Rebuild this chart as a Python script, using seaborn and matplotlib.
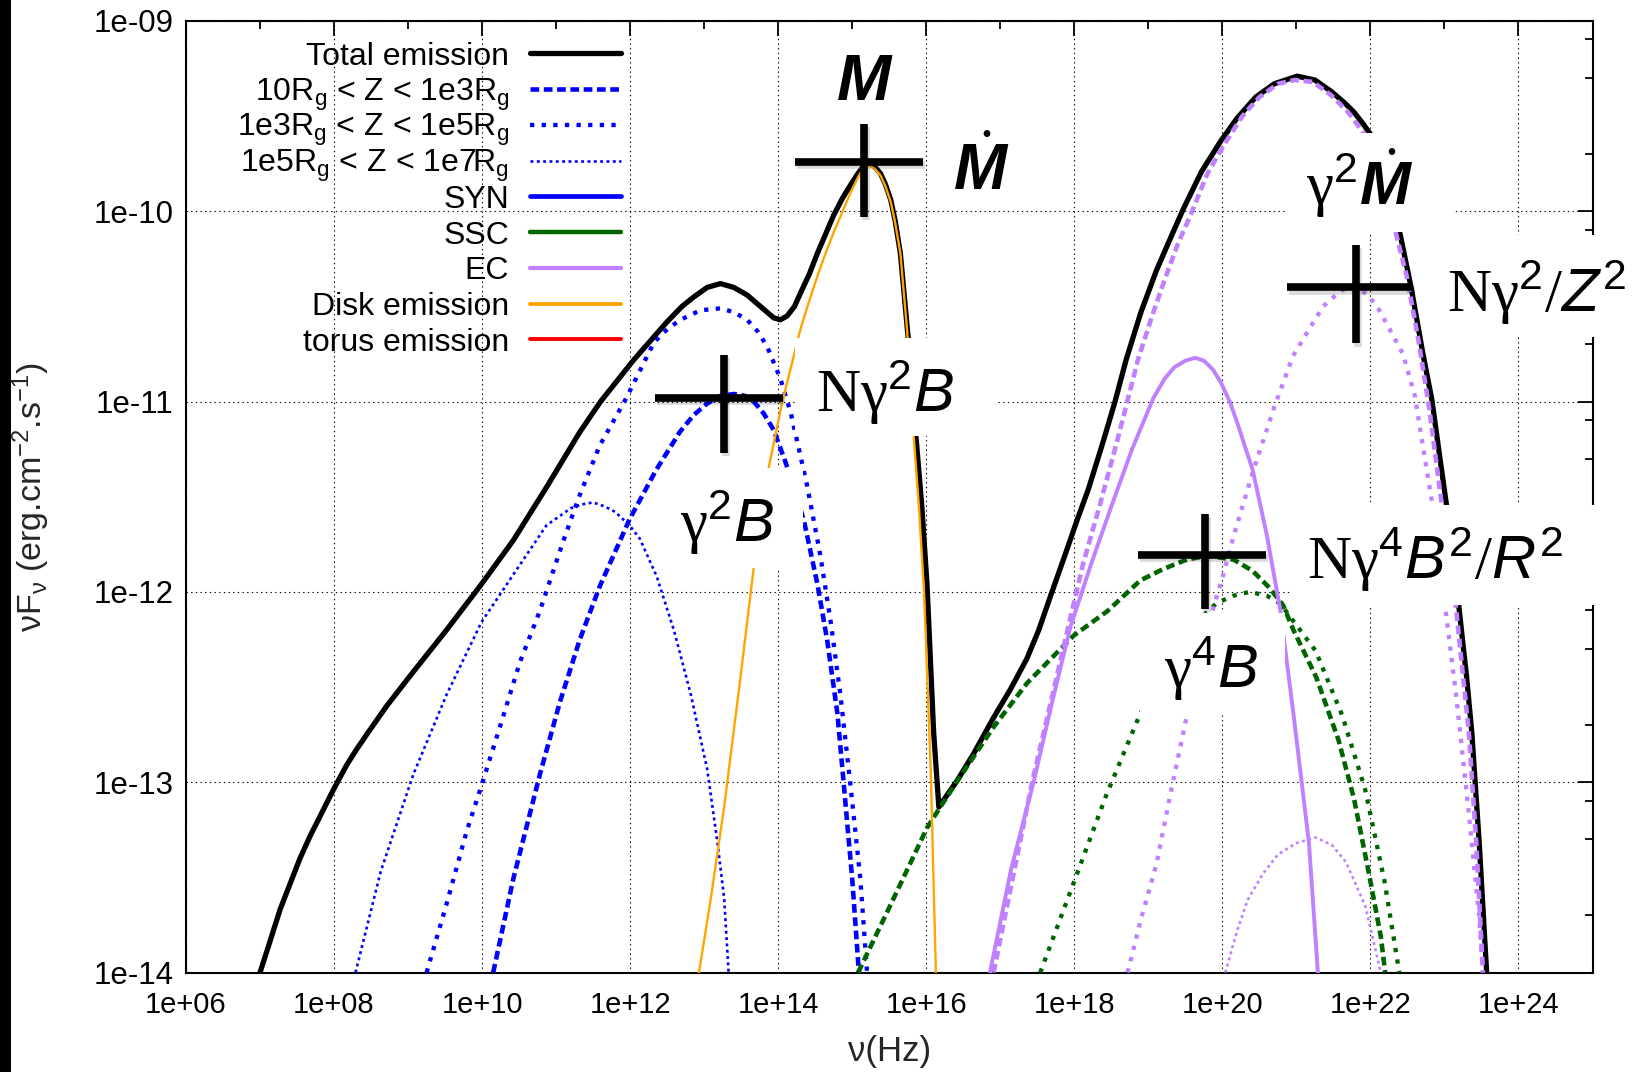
import numpy as np
import pandas as pd
import matplotlib
matplotlib.use("Agg")
import matplotlib.pyplot as plt
import seaborn as sns
from matplotlib.lines import Line2D
from matplotlib.patches import Rectangle
from matplotlib import patheffects as pe
from matplotlib.ticker import NullFormatter
from matplotlib.legend_handler import HandlerLine2D

# ---------------- data (log10 nu [Hz], log10 nuFnu [erg/cm2/s]) ----------------
total_lognu = [7.00, 7.14, 7.27, 7.41, 7.54, 7.68, 7.81, 7.99, 8.17, 8.30, 8.44, 8.71, 9.07,
               9.52, 9.99, 10.42, 10.87, 11.32, 11.60, 12.05, 12.50, 12.70, 12.86, 13.04,
               13.22, 13.40, 13.58, 13.76, 13.94, 14.03, 14.12, 14.22, 14.30, 14.42, 14.53,
               14.64, 14.75, 14.87, 14.98, 15.08, 15.13, 15.18, 15.23, 15.30, 15.38, 15.45,
               15.52, 15.58, 15.65, 15.74, 15.80, 15.86, 15.94, 16.01, 16.10, 16.17, 16.42,
               16.64, 16.91, 17.14, 17.36, 17.52, 17.68, 17.88, 18.04, 18.19, 18.39, 18.55,
               18.70, 18.90, 19.11, 19.30, 19.47, 19.72, 19.98, 20.20, 20.45, 20.70, 21.01,
               21.25, 21.47, 21.65, 21.78, 21.90, 22.01, 22.20, 22.39, 22.55, 22.71, 22.83,
               22.94, 23.03, 23.19, 23.30, 23.37, 23.47, 23.57]
total_logf = [-14.00, -13.83, -13.67, -13.53, -13.40, -13.28, -13.18, -13.04, -12.91, -12.83,
              -12.75, -12.60, -12.42, -12.20, -11.96, -11.73, -11.45, -11.16, -11.00, -10.78,
              -10.58, -10.50, -10.45, -10.40, -10.38, -10.40, -10.44, -10.50, -10.56, -10.57,
              -10.55, -10.50, -10.43, -10.33, -10.22, -10.12, -10.02, -9.93, -9.86, -9.80,
              -9.775, -9.755, -9.75, -9.765, -9.80, -9.86, -9.94, -10.05, -10.22, -10.60,
              -10.85, -11.18, -11.55, -11.96, -12.74, -13.13, -12.99, -12.85, -12.66, -12.51,
              -12.35, -12.20, -12.02, -11.80, -11.62, -11.46, -11.21, -11.00, -10.78, -10.53,
              -10.31, -10.14, -9.99, -9.79, -9.63, -9.51, -9.40, -9.33, -9.29, -9.31, -9.37,
              -9.43, -9.48, -9.54, -9.60, -9.83, -10.10, -10.40, -10.75, -10.99, -11.30,
              -11.55, -12.06, -12.45, -12.74, -13.32, -14.00]

disk_lognu = [12.93, 13.09, 13.27, 13.49, 13.67, 13.87, 14.05, 14.12, 14.30, 14.42, 14.53,
              14.64, 14.75, 14.87, 14.98, 15.08, 15.13, 15.18, 15.23, 15.30, 15.38, 15.45,
              15.52, 15.58, 15.65, 15.74, 15.83, 15.90, 15.97, 16.06, 16.13]
disk_logf = [-14.00, -13.61, -13.13, -12.45, -11.87, -11.35, -11.01, -10.90, -10.62, -10.47,
             -10.34, -10.22, -10.11, -10.00, -9.90, -9.82, -9.785, -9.765, -9.76, -9.775,
             -9.81, -9.87, -9.95, -10.06, -10.22, -10.62, -11.18, -11.55, -12.00, -12.93,
             -14.00]

syn1_lognu = [10.15, 10.42, 10.78, 11.05, 11.32, 11.59, 11.99, 12.35, 12.67, 12.86, 13.04,
              13.22, 13.40, 13.55, 13.67, 13.80, 13.94, 14.10, 14.22, 14.35, 14.53, 14.66,
              14.80, 14.89, 15.00, 15.09]
syn1_logf = [-14.00, -13.51, -12.96, -12.58, -12.25, -11.97, -11.62, -11.36, -11.16, -11.07,
             -11.01, -10.97, -10.96, -10.97, -11.00, -11.06, -11.15, -11.32, -11.46, -11.63,
             -11.96, -12.25, -12.64, -13.03, -13.51, -14.00]

syn2_lognu = [9.25, 9.52, 9.79, 9.99, 10.24, 10.51, 10.78, 11.09, 11.32, 11.59, 11.95, 12.32,
              12.50, 12.68, 12.95, 13.22, 13.40, 13.58, 13.72, 13.85, 14.03, 14.17, 14.39,
              14.57, 14.71, 14.84, 14.98, 15.11, 15.20]
syn2_logf = [-14.00, -13.64, -13.26, -13.02, -12.71, -12.37, -12.10, -11.74, -11.49, -11.23,
             -10.98, -10.69, -10.62, -10.57, -10.52, -10.51, -10.53, -10.57, -10.63, -10.71,
             -10.88, -11.06, -11.44, -11.81, -12.16, -12.54, -13.03, -13.51, -14.00]

syn3_lognu = [8.29, 8.63, 9.07, 9.52, 9.99, 10.42, 10.87, 11.20, 11.35, 11.50, 11.65, 11.80,
              11.99, 12.13, 12.36, 12.59, 12.82, 13.04, 13.18, 13.27, 13.33]
syn3_logf = [-14.00, -13.47, -12.96, -12.54, -12.16, -11.91, -11.65, -11.56, -11.54, -11.53,
             -11.55, -11.58, -11.65, -11.72, -11.92, -12.20, -12.54, -12.93, -13.32, -13.61,
             -14.00]

ssc1_lognu = [15.08, 15.56, 16.01, 16.19, 16.46, 16.91, 17.36, 17.99, 18.45, 18.89, 19.20,
              19.52, 19.79, 19.98, 20.15, 20.41, 20.64, 20.82, 20.96, 21.27, 21.57, 21.78,
              21.98, 22.14, 22.20]
ssc1_logf = [-14.00, -13.61, -13.24, -13.13, -12.97, -12.71, -12.48, -12.23, -12.10, -11.94,
             -11.88, -11.83, -11.81, -11.82, -11.83, -11.89, -11.98, -12.07, -12.20, -12.45,
             -12.78, -13.09, -13.48, -13.81, -14.00]

ssc2_lognu = [17.54, 17.99, 18.44, 18.89, 19.20, 19.50, 19.70, 19.92, 20.15, 20.37, 20.60,
              20.78, 21.26, 21.62, 21.93, 22.19, 22.39]
ssc2_logf = [-14.00, -13.53, -13.06, -12.64, -12.42, -12.24, -12.14, -12.06, -12.02, -12.00,
             -12.02, -12.06, -12.31, -12.65, -13.04, -13.52, -14.00]

ec1_lognu = [16.91, 17.18, 17.43, 17.70, 17.95, 18.12, 18.34, 18.57, 18.86, 19.05, 19.22,
             19.40, 19.57, 19.80, 20.04, 20.27, 20.50, 20.75, 20.98, 21.22, 21.47, 21.70,
             21.93, 22.10, 22.25, 22.49, 22.65, 22.80, 22.96, 23.15, 23.33, 23.43, 23.52]
ec1_logf = [-14.00, -13.48, -13.00, -12.55, -12.13, -11.85, -11.55, -11.22, -10.78, -10.55,
            -10.36, -10.17, -10.02, -9.80, -9.64, -9.50, -9.40, -9.33, -9.31, -9.32, -9.39,
            -9.48, -9.60, -9.78, -9.97, -10.34, -10.68, -11.05, -11.53, -12.06, -12.74,
            -13.32, -14.00]

ec2_lognu = [18.72, 18.90, 19.11, 19.31, 19.52, 19.70, 19.88, 19.99, 20.15, 20.28, 20.42,
             20.70, 20.955, 21.14, 21.36, 21.59, 21.70, 21.80, 21.90, 21.99, 22.12, 22.26,
             22.44, 22.60, 22.84, 23.01, 23.16, 23.32, 23.47, 23.52]
ec2_logf = [-14.00, -13.72, -13.43, -13.04, -12.65, -12.35, -12.08, -11.94, -11.71, -11.54,
            -11.36, -11.03, -10.76, -10.64, -10.50, -10.42, -10.40, -10.40, -10.42, -10.45,
            -10.52, -10.62, -10.75, -10.97, -11.55, -12.08, -12.55, -13.13, -13.71, -14.00]

ec3_lognu = [20.04, 20.20, 20.34, 20.55, 20.75, 21.00, 21.26, 21.48, 21.67, 21.93, 22.14]
ec3_logf = [-14.00, -13.78, -13.62, -13.48, -13.38, -13.32, -13.29, -13.33, -13.42, -13.65,
            -14.00]

ec_sum_lognu = [16.86, 17.15, 17.45, 17.70, 17.95, 18.23, 18.51, 18.78, 19.07, 19.22, 19.35,
                19.50, 19.63, 19.75, 19.87, 19.98, 20.10, 20.20, 20.41, 20.60, 20.78, 20.96,
                21.17, 21.29]
ec_sum_logf = [-14.00, -13.45, -13.00, -12.58, -12.18, -11.85, -11.54, -11.25, -10.98, -10.88,
               -10.82, -10.785, -10.77, -10.785, -10.83, -10.90, -11.00, -11.11, -11.36, -11.70,
               -12.09, -12.64, -13.32, -14.00]

# crosses (log10 coordinates)
cross_lognu = [15.16, 13.27, 21.81, 19.76]
cross_logf = [-9.74, -10.98, -10.40, -11.806]
cross_nu_lo = [14.23, 12.34, 20.87, 18.86]
cross_nu_hi = [15.96, 14.07, 22.58, 20.59]
cross_f_hi = [-9.54, -10.755, -10.177, -11.59]
cross_f_lo = [-10.03, -11.27, -10.694, -12.09]

xtick_values = [1e6, 1e8, 1e10, 1e12, 1e14, 1e16, 1e18, 1e20, 1e22, 1e24]
xtick_labels = ["1e+06", "1e+08", "1e+10", "1e+12", "1e+14", "1e+16", "1e+18", "1e+20",
                "1e+22", "1e+24"]
ytick_values = [1e-14, 1e-13, 1e-12, 1e-11, 1e-10, 1e-9]
ytick_labels = ["1e-14", "1e-13", "1e-12", "1e-11", "1e-10", "1e-09"]

legend_labels = ["Total emission",
                 r"10R$_{\mathsf{g}}$ < Z < 1e3R$_{\mathsf{g}}$",
                 r"1e3R$_{\mathsf{g}}$ < Z < 1e5R$_{\mathsf{g}}$",
                 r"1e5R$_{\mathsf{g}}$ < Z < 1e7R$_{\mathsf{g}}$",
                 "SYN", "SSC", "EC", "Disk emission", "torus emission"]

# ---------------- style ----------------
sns.set_theme(style="white")
plt.rcParams.update({
    "font.family": ["Liberation Sans", "DejaVu Sans"],
    "mathtext.fontset": "custom",
    "mathtext.rm": "Liberation Serif",
    "mathtext.it": "Liberation Sans:italic",
    "mathtext.bf": "Liberation Sans:bold:italic",
    "mathtext.sf": "Liberation Sans",
    "axes.edgecolor": "black",
    "axes.linewidth": 1.5,
    "xtick.color": "black",
    "ytick.color": "black",
    "text.color": "black",
})

BLUE = "#0000ff"
GREEN = "#006400"
PURPLE = "#c080ff"
ORANGE = "#ffa500"
RED = "#ff0000"
DASH = (0, (1.9, 1.0))
DOT = (0, (1.0, 1.7))
FINE = (0, (1.1, 1.3))

W, H = 1645, 1072
fig = plt.figure(figsize=(W / 100, H / 100), dpi=100)
fig.patch.set_facecolor("white")
ax = fig.add_axes([186 / W, 1 - 972.5 / H, (1592.5 - 186) / W, (972.5 - 21) / H])
ax.set_xscale("log")
ax.set_yscale("log")


def draw(lognu, logf, color, lw, ls, z):
    df = pd.DataFrame({"nu": 10.0 ** np.asarray(lognu), "f": 10.0 ** np.asarray(logf)})
    sns.lineplot(data=df, x="nu", y="f", ax=ax, color=color, linewidth=lw, linestyle=ls,
                 estimator=None, sort=False, legend=False, zorder=z)


draw(total_lognu, total_logf, "black", 3.8, "-", 2)
draw(syn3_lognu, syn3_logf, BLUE, 1.9, FINE, 3)
draw(syn2_lognu, syn2_logf, BLUE, 3.1, DOT, 3)
draw(syn1_lognu, syn1_logf, BLUE, 3.3, DASH, 3)
draw(ssc2_lognu, ssc2_logf, GREEN, 3.1, DOT, 3)
draw(ssc1_lognu, ssc1_logf, GREEN, 3.3, DASH, 3)
draw(ec3_lognu, ec3_logf, PURPLE, 1.9, FINE, 3)
draw(ec2_lognu, ec2_logf, PURPLE, 3.1, DOT, 3)
draw(ec_sum_lognu, ec_sum_logf, PURPLE, 2.8, "-", 3)
draw(ec1_lognu, ec1_logf, PURPLE, 3.3, DASH, 3)
draw(disk_lognu, disk_logf, ORANGE, 1.7, "-", 4)

ax.set_xlim(1e6, 1e25)
ax.set_ylim(1e-14, 1e-9)

# ticks
ax.set_xticks(xtick_values)
ax.set_xticklabels(xtick_labels)
ax.set_xticks([10.0 ** k for k in range(7, 25, 2)], minor=True)
ax.set_yticks(ytick_values)
ax.set_yticklabels(ytick_labels)
ax.set_yticks([m * 10.0 ** k for k in range(-14, -9) for m in (2, 5, 8)], minor=True)
ax.xaxis.set_minor_formatter(NullFormatter())
ax.yaxis.set_minor_formatter(NullFormatter())
ax.tick_params(which="both", direction="in", top=True, right=True, width=1.3, colors="black")
ax.tick_params(which="major", length=11)
ax.tick_params(which="minor", length=5.5)
ax.tick_params(axis="x", pad=13, labelsize=21)
ax.tick_params(axis="y", pad=9, labelsize=22.5)
ax.grid(True, which="major", color="black", linestyle=(0, (1.2, 3.0)), linewidth=0.8)
ax.grid(False, which="minor")
for s in ax.spines.values():
    s.set_visible(True)
    s.set_linewidth(1.5)
    s.set_color("black")

ax.set_xlabel("ν(Hz)", fontsize=25)
ax.set_ylabel(r"νF$_{\mathsf{ν}}$ (erg.cm$^{\mathsf{-2}}$.s$^{\mathsf{-1}}$)", fontsize=24.5)
ax.xaxis.set_label_coords(0.5, (972.5 - 1051) / 951.5)
ax.xaxis.label.set_va("center")
ax.yaxis.set_label_coords((31 - 186) / 1406.5, 0.5)
ax.yaxis.label.set_va("center")


# legend (uniform rows: tall handle boxes, key line lowered to text mid-height)
class LoweredLine(HandlerLine2D):
    def __init__(self, shift, **kw):
        super().__init__(**kw)
        self.shift = shift

    def create_artists(self, legend, orig_handle, xdescent, ydescent, width, height,
                       fontsize, trans):
        arts = super().create_artists(legend, orig_handle, xdescent, ydescent, width, height,
                                      fontsize, trans)
        for a in arts:
            if isinstance(a, Line2D):
                a.set_ydata(np.asarray(a.get_ydata(), dtype=float) - self.shift * fontsize)
        return arts


LEG_FS = 23
handles = [
    Line2D([], [], color="black", lw=3.8),
    Line2D([], [], color=BLUE, lw=3.3, ls=DASH),
    Line2D([], [], color=BLUE, lw=3.1, ls=DOT),
    Line2D([], [], color=BLUE, lw=1.9, ls=FINE),
    Line2D([], [], color=BLUE, lw=3.4),
    Line2D([], [], color=GREEN, lw=3.2),
    Line2D([], [], color=PURPLE, lw=3.0),
    Line2D([], [], color=ORANGE, lw=2.8),
    Line2D([], [], color=RED, lw=2.8),
]
ax.legend(handles, legend_labels, loc="upper right", bbox_to_anchor=(621 / W, 1 - 32 / H),
          bbox_transform=fig.transFigure, frameon=False, markerfirst=False, fontsize=LEG_FS,
          handlelength=2.86, handleheight=1.8, handletextpad=0.64, labelspacing=-0.296,
          borderpad=0, borderaxespad=0, handler_map={Line2D: LoweredLine(0.155)})

# crosses
cx = 10.0 ** np.array(cross_lognu)
cy = 10.0 ** np.array(cross_logf)
xerr = [cx - 10.0 ** np.array(cross_nu_lo), 10.0 ** np.array(cross_nu_hi) - cx]
yerr = [cy - 10.0 ** np.array(cross_f_lo), 10.0 ** np.array(cross_f_hi) - cy]
eb = ax.errorbar(cx, cy, xerr=xerr, yerr=yerr, fmt="none", ecolor="black", elinewidth=5.5,
                 capsize=0, zorder=7)
for col in eb[2]:
    col.set_capstyle("butt")
    col.set_path_effects([pe.SimpleLineShadow(offset=(1.5, -2.5), shadow_color="black",
                                              alpha=0.15),
                          pe.Normal()])

# white label boxes (pixel coords of the figure)
boxes = [(795, 338, 998, 436), (665, 468, 803, 568), (1285, 133, 1453, 232),
         (1425, 235, 1645, 337), (1290, 505, 1600, 605), (1140, 613, 1285, 713)]
for (x0, y0, x1, y1) in boxes:
    ax.add_patch(Rectangle((x0 / W, 1 - y1 / H), (x1 - x0) / W, (y1 - y0) / H,
                           transform=fig.transFigure, facecolor="white", edgecolor="none",
                           zorder=8, clip_on=False))

labels = [
    (836, 100, r"$\mathbf{M}$", 47),
    (953, 190, r"$\dot{\mathbf{M}}$", 46),
    (816, 412, r"$\mathrm{N\gamma}^{\mathsf{2}}\mathit{B}$", 44),
    (680, 542, r"$\mathrm{\gamma}^{\mathsf{2}}\mathit{B}$", 44),
    (1306, 205, r"$\mathrm{\gamma}^{\mathsf{2}}\dot{\mathbf{M}}$", 44),
    (1447, 312, r"$\mathrm{N\gamma}^{\mathsf{2}}/\mathit{Z}^{\mathsf{2}}$", 44),
    (1307, 579, r"$\mathrm{N\gamma}^{\mathsf{4}}\mathit{B}^{\mathsf{2}}/\mathit{R}^{\mathsf{2}}$", 44),
    (1164, 688, r"$\mathrm{\gamma}^{\mathsf{4}}\mathit{B}$", 44),
]
for (x, y, s, fs) in labels:
    ax.text(x / W, 1 - y / H, s, transform=fig.transFigure, fontsize=fs, ha="left",
            va="baseline", zorder=9, clip_on=False)

# dark strip on the left edge of the picture
fig.patches.append(Rectangle((0, 0), 11 / W, 1, transform=fig.transFigure,
                             facecolor="black", edgecolor="none"))

fig.savefig("out.png", dpi=100)
